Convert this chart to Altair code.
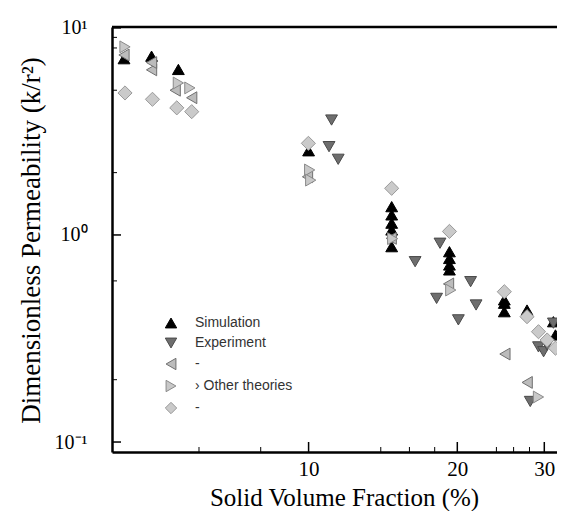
import altair as alt
import pandas as pd

# ---- data ----
series_names = ["Simulation", "Experiment", "Theory 1", "Other theories", "Theory 3"]
legend_labels = ["Simulation", "Experiment", "-", "\u203a Other theories", "-"]
series_shapes = ["triangle-up", "triangle-down", "triangle-left", "triangle-right", "diamond"]
series_fill = ["#000000", "#6e6e6e", "#bcbcbc", "#c8c8c8", "#cacaca"]
series_stroke = ["#000000", "#4a4a4a", "#707070", "#8a8a8a", "#9a9a9a"]

sim_x = [4.23, 4.81, 5.45, 10.0, 14.73, 14.73, 14.73, 14.73, 14.73, 19.28, 19.28, 19.28, 19.28,
         24.9, 24.9, 24.9, 27.68, 31.3, 31.6]
sim_y = [7.1, 7.3, 6.3, 2.55, 1.37, 1.25, 1.14, 1.057, 0.878, 0.83, 0.77, 0.716, 0.678,
         0.486, 0.468, 0.426, 0.434, 0.381, 0.329]

exp_x = [11.13, 11.0, 11.48, 16.43, 18.45, 18.16, 21.28, 21.83, 20.1, 31.3, 29.2, 29.9, 30.4, 28.1]
exp_y = [3.59, 2.67, 2.32, 0.743, 0.912, 0.494, 0.595, 0.459, 0.389, 0.375, 0.288, 0.273, 0.294, 0.157]

left_x = [4.23, 4.81, 4.81, 5.37, 5.8, 9.95, 14.7, 19.2, 24.97, 27.7]
left_y = [7.4, 6.27, 6.8, 5.0, 4.6, 1.91, 0.963, 0.58, 0.266, 0.194]

right_x = [4.25, 5.45, 5.75, 10.05, 10.1, 14.8, 19.4, 29.2]
right_y = [8.1, 5.42, 5.13, 2.06, 1.84, 0.96, 0.542, 0.165]

dia_x = [4.25, 4.83, 5.41, 5.8, 9.99, 14.73, 19.28, 24.9, 27.68, 29.2, 30.4, 31.6]
dia_y = [4.85, 4.52, 4.11, 3.94, 2.77, 1.68, 1.04, 0.532, 0.403, 0.341, 0.311, 0.284]

x_major_ticks = [10, 20, 30]
x_minor_ticks = [6, 8, 14, 16, 18, 24, 26, 28]
y_major_ticks = [0.1, 1, 10]
y_minor_ticks = [0.2, 0.6, 2, 5, 8, 9]
y_tick_labels = ["10\u207b\u00b9", "10\u2070", "10\u00b9"]

# ---- build table (drawing order: simulation, experiment, diamonds, left, right) ----
rows = []
order = [("Simulation", sim_x, sim_y), ("Experiment", exp_x, exp_y), ("Theory 3", dia_x, dia_y),
         ("Theory 1", left_x, left_y), ("Other theories", right_x, right_y)]
for i, (name, xs_, ys_) in enumerate(order):
    for j, (a, b) in enumerate(zip(xs_, ys_)):
        rows.append({"x": a, "y": b, "series": name, "ord": i * 100 + j})
df = pd.DataFrame(rows)

W, H = 445, 425
xs = alt.Scale(type="log", domain=[4.0, 31.83], nice=False)
ys = alt.Scale(type="log", domain=[0.0895, 10.1], nice=False)

serif = "Liberation Serif"

ylab_expr = " : ".join(
    [f"datum.value == {v} ? '{t}'" for v, t in zip(y_major_ticks, y_tick_labels)]) + " : ''"
leg_expr = " : ".join(
    [f"datum.value == '{n}' ? '{l}'" for n, l in zip(series_names, legend_labels)]) + " : datum.label"

x_axis = alt.Axis(values=x_major_ticks, format="d", ticks=False, tickSize=0, grid=False,
                  domainColor="black", domainWidth=2.5, labelFont=serif, labelFontSize=21,
                  labelColor="black", labelPadding=6, labelFlush=False,
                  title="Solid Volume Fraction (%)", titleFont=serif, titleFontSize=25,
                  titleFontWeight="normal", titleColor="black", titleX=232, titleY=53,
                  titleBaseline="alphabetic", titleAlign="center")
y_axis = alt.Axis(values=y_major_ticks, labelExpr=ylab_expr, ticks=False, tickSize=0, grid=False,
                  domainColor="black", domainWidth=2.5, labelFont=serif, labelFontSize=20,
                  labelColor="black", labelPadding=25, labelFlush=False,
                  title="Dimensionless Permeability (k/r\u00b2)", titleFont=serif, titleFontSize=27,
                  titleFontWeight="normal", titleColor="black", titleX=-81, titleY=213,
                  titleAngle=-90, titleBaseline="middle", titleAlign="center")

leg = alt.Legend(orient="none", legendX=52, legendY=289, padding=0, title=None,
                 labelExpr=leg_expr, labelFont="Liberation Sans", labelFontSize=14,
                 labelColor="#333333", symbolSize=130, rowPadding=6, labelOffset=17,
                 symbolStrokeWidth=1)

points = alt.Chart(df).mark_point(filled=True, opacity=1, strokeWidth=1, size=140).encode(
    x=alt.X("x:Q", scale=xs, axis=x_axis),
    y=alt.Y("y:Q", scale=ys, axis=y_axis),
    shape=alt.Shape("series:N", scale=alt.Scale(domain=series_names, range=series_shapes), legend=leg),
    fill=alt.Fill("series:N", scale=alt.Scale(domain=series_names, range=series_fill), legend=leg),
    stroke=alt.Stroke("series:N", scale=alt.Scale(domain=series_names, range=series_stroke), legend=leg),
    size=alt.condition("datum.series == 'Theory 3'", alt.value(200), alt.value(140)),
    order=alt.Order("ord:Q"),
)

xt_major = alt.Chart(pd.DataFrame({"x": x_major_ticks})).mark_rule(color="black", strokeWidth=1.5).encode(
    x=alt.X("x:Q", scale=xs, axis=x_axis), y=alt.value(H), y2=alt.value(H - 10))
xt_minor = alt.Chart(pd.DataFrame({"x": x_minor_ticks})).mark_rule(color="black", strokeWidth=1).encode(
    x=alt.X("x:Q", scale=xs, axis=x_axis), y=alt.value(H), y2=alt.value(H - 5))
yt_major = alt.Chart(pd.DataFrame({"y": y_major_ticks})).mark_rule(color="black", strokeWidth=1.5).encode(
    y=alt.Y("y:Q", scale=ys, axis=y_axis), x=alt.value(0), x2=alt.value(9))
yt_minor = alt.Chart(pd.DataFrame({"y": y_minor_ticks})).mark_rule(color="black", strokeWidth=1).encode(
    y=alt.Y("y:Q", scale=ys, axis=y_axis), x=alt.value(0), x2=alt.value(5))
top_line = alt.Chart(pd.DataFrame({"x": [0]})).mark_rule(color="black", strokeWidth=2.5).encode(
    x=alt.value(0), x2=alt.value(W), y=alt.value(0))

chart = alt.layer(xt_major, xt_minor, yt_major, yt_minor, top_line, points).properties(
    width=W, height=H,
    autosize=alt.AutoSizeParams(type="none"),
    padding={"left": 104, "top": 19, "right": 0, "bottom": 59},
).configure_view(stroke=None).configure(background="white")

chart.save("out.html", embed_options={"renderer": "svg", "actions": False})
